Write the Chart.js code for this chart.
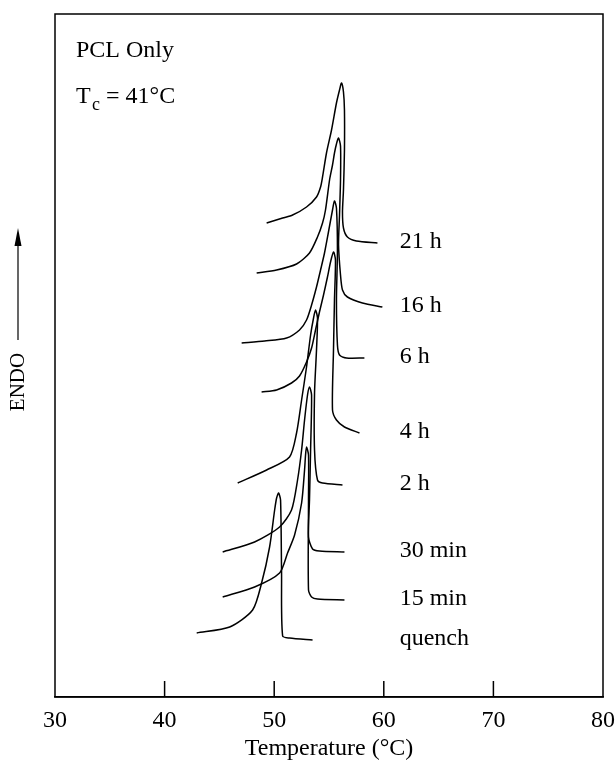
<!DOCTYPE html>
<html>
<head>
<meta charset="utf-8">
<script src="https://cdn.jsdelivr.net/npm/chart.js@4.4.1/dist/chart.umd.min.js"></script>
<style>
  body { margin: 0; background: #fff; }
  canvas { display: block; }
</style>
</head>
<body>
<canvas id="dsc" width="615" height="763"></canvas>
<script>
document.addEventListener('DOMContentLoaded', function () {

	'use strict';

	// traces: temperature (°C) / endotherm signal (arb. units)
	const names = ['21 h', '16 h', '6 h', '4 h', '2 h', '30 min', '15 min', 'quench'];

	const temp21h = [49.31, 50.77, 51.68, 52.95, 53.86, 54.23, 54.41, 54.77, 55.23, 55.68, 55.96, 56.14, 56.32, 56.41, 56.41, 56.32, 56.23, 56.32, 56.68, 57.50, 59.42];
	const sig21h  = [474, 479, 482, 490, 500, 510, 520, 544, 567, 594, 607, 614, 605, 587, 547, 507, 485, 469, 460, 456, 454];

	const temp16h = [48.40, 50.22, 52.04, 53.22, 53.95, 54.41, 54.68, 55.05, 55.32, 55.50, 55.68, 55.87, 56.05, 56.05, 55.96, 55.87, 56.05, 56.23, 56.68, 58.05, 59.87];
	const sig16h  = [424, 427, 433, 444, 460, 474, 487, 517, 532, 544, 553, 559, 551, 517, 482, 452, 422, 407, 400, 394, 390];

	const temp6h = [47.03, 49.13, 51.13, 52.31, 52.95, 53.41, 53.86, 54.23, 54.59, 54.95, 55.32, 55.50, 55.68, 55.77, 55.68, 55.77, 55.96, 56.59, 58.23];
	const sig6h  = [354, 356, 359, 367, 377, 392, 410, 427, 444, 465, 487, 496, 489, 447, 397, 352, 342, 339, 339];

	const temp4h = [48.85, 50.22, 51.58, 52.31, 52.95, 53.41, 53.77, 54.13, 54.50, 54.86, 55.14, 55.41, 55.59, 55.50, 55.41, 55.32, 55.68, 56.41, 57.78];
	const sig4h  = [305, 307, 314, 321, 335, 349, 367, 385, 402, 420, 435, 445, 437, 397, 347, 287, 277, 270, 264];

	const temp2h = [46.67, 49.31, 51.40, 52.04, 52.50, 52.95, 53.32, 53.59, 53.77, 53.95, 53.86, 53.68, 53.68, 53.95, 54.41, 56.23];
	const sig2h  = [214, 227, 240, 264, 297, 330, 362, 379, 387, 379, 347, 304, 247, 217, 214, 212];

	const temp30m = [45.30, 48.21, 50.49, 51.58, 52.13, 52.50, 52.77, 53.04, 53.22, 53.41, 53.32, 53.22, 53.13, 53.50, 54.13, 56.41];
	const sig30m  = [145, 155, 170, 187, 217, 247, 277, 302, 310, 302, 247, 197, 160, 148, 146, 145];

	const temp15m = [45.30, 48.21, 50.49, 51.22, 51.86, 52.50, 52.77, 52.86, 52.95, 53.13, 53.13, 53.13, 53.41, 53.95, 56.41];
	const sig15m  = [100, 110, 124, 144, 162, 194, 227, 242, 250, 242, 197, 107, 100, 98, 97];

	const tempQ = [42.93, 45.94, 48.03, 48.85, 49.58, 50.04, 50.22, 50.40, 50.58, 50.67, 50.77, 51.40, 53.50];
	const sigQ  = [64, 70, 87, 114, 150, 187, 199, 204, 197, 127, 61, 59, 57];

	const xTicks = [30, 40, 50, 60, 70, 80];

	const temps = [temp21h, temp16h, temp6h, temp4h, temp2h, temp30m, temp15m, tempQ];
	const sigs = [sig21h, sig16h, sig6h, sig4h, sig2h, sig30m, sig15m, sigQ];

	const serif = "'Liberation Serif', 'DejaVu Serif', serif";

	const datasets = names.map(function (n, i) {
		return {
			label: n,
			data: temps[i].map(function (t, j) { return { x: t, y: sigs[i][j] }; }),
			showLine: true,
			borderColor: '#000',
			borderWidth: 1.5,
			pointRadius: 0,
			tension: 0.25,
			fill: false
		};
	});

	// frame, inward ticks, curve labels and the annotations
	const decor = {
		id: 'decor',
		afterDraw: function (chart) {
			const ctx = chart.ctx;
			const a = chart.chartArea;
			const sx = chart.scales.x;
			const sy = chart.scales.y;
			ctx.save();
			ctx.strokeStyle = '#000';
			ctx.lineWidth = 1.5;
			ctx.strokeRect(a.left, a.top, a.right - a.left, a.bottom - a.top);

			xTicks.slice(1, -1).forEach(function (v) {
				const px = sx.getPixelForValue(v);
				ctx.beginPath();
				ctx.moveTo(px, a.bottom);
				ctx.lineTo(px, a.bottom - 16);
				ctx.stroke();
			});

			// curve labels sit just right of each trace's tail
			ctx.fillStyle = '#000';
			ctx.font = '24px ' + serif;
			ctx.textAlign = 'left';
			ctx.textBaseline = 'middle';
			names.forEach(function (n, i) {
				const s = sigs[i];
				ctx.fillText(n, sx.getPixelForValue(61.45), sy.getPixelForValue(s[s.length - 1]) - 1);
			});

			ctx.textBaseline = 'alphabetic';
			ctx.fillText('PCL Only', 76, 57);
			ctx.fillText('T', 76, 103);
			ctx.font = '18px ' + serif;
			ctx.fillText('c', 92, 110);
			ctx.font = '24px ' + serif;
			ctx.fillText('= 41°C', 106, 103);

			// ENDO with arrow
			ctx.save();
			ctx.translate(18, 0);
			ctx.rotate(-Math.PI / 2);
			ctx.textAlign = 'center';
			ctx.textBaseline = 'middle';
			ctx.font = '21px ' + serif;
			ctx.fillText('ENDO', -382, 0);
			ctx.restore();
			ctx.lineWidth = 1.2;
			ctx.beginPath();
			ctx.moveTo(18, 340);
			ctx.lineTo(18, 243);
			ctx.stroke();
			ctx.beginPath();
			ctx.moveTo(18, 228);
			ctx.lineTo(14.5, 246);
			ctx.lineTo(21.5, 246);
			ctx.closePath();
			ctx.fill();
			ctx.restore();
		}
	};

	new Chart(document.getElementById('dsc'), {
		type: 'scatter',
		data: { datasets: datasets },
		options: {
			responsive: false,
			animation: false,
			devicePixelRatio: 1,
			layout: { padding: { left: 55, right: 12, top: 14, bottom: 0 } },
			plugins: { legend: { display: false }, tooltip: { enabled: false } },
			scales: {
				x: {
					type: 'linear',
					min: 30,
					max: 80,
					afterFit: function (s) {
						s.height = 66;
						s.paddingLeft = 0;
						s.paddingRight = 0;
					},
					afterBuildTicks: function (s) { s.ticks = xTicks.map(function (v) { return { value: v }; }); },
					grid: { drawOnChartArea: false, drawTicks: false },
					border: { display: true, color: '#000', width: 1.5 },
					ticks: { color: '#000', padding: 9, font: { family: serif, size: 24 } },
					title: { display: true, text: 'Temperature (°C)', color: '#000', padding: { top: 0, bottom: 0 }, font: { family: serif, size: 24 } }
				},
				y: { display: false, min: 0, max: 683 }
			}
		},
		plugins: [decor]
	});
});
</script>
</body>
</html>
